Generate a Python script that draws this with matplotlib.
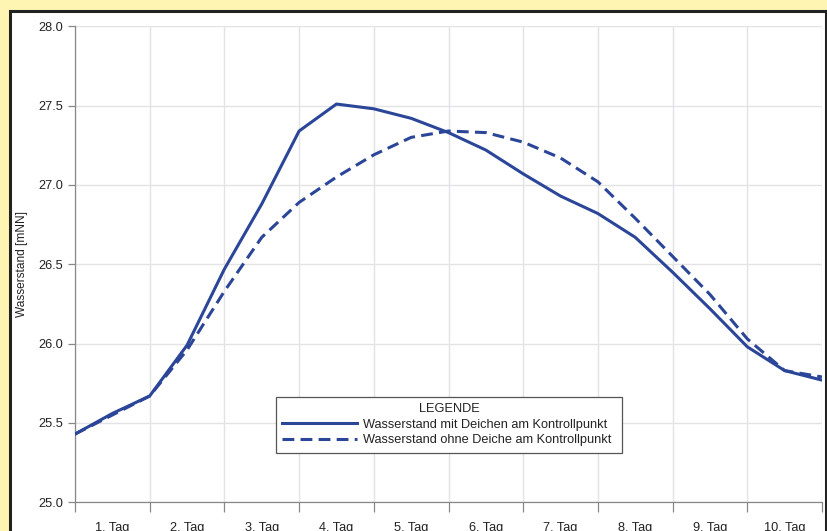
import matplotlib
matplotlib.use("Agg")
import matplotlib.pyplot as plt
from matplotlib.patches import Rectangle
from matplotlib.ticker import MultipleLocator, FixedLocator, FixedFormatter, NullFormatter

plt.rcParams['font.family'] = ['Liberation Sans', 'DejaVu Sans']
plt.rcParams['lines.scale_dashes'] = False

# Zeitachse in halben Tagen
zeit_tage = [0.0, 0.5, 1.0, 1.5, 2.0, 2.5, 3.0, 3.5, 4.0, 4.5, 5.0,
             5.5, 6.0, 6.5, 7.0, 7.5, 8.0, 8.5, 9.0, 9.5, 10.0]

# Wasserstand mit Deichen [mNN]
mit_deichen = [25.43, 25.56, 25.67, 25.99, 26.47, 26.88, 27.34, 27.51, 27.48, 27.42, 27.33,
               27.22, 27.07, 26.93, 26.82, 26.67, 26.45, 26.22, 25.98, 25.83, 25.77]

# Wasserstand ohne Deiche [mNN]
ohne_deiche = [25.43, 25.55, 25.67, 25.96, 26.33, 26.67, 26.89, 27.05, 27.19, 27.30, 27.34,
               27.33, 27.27, 27.17, 27.02, 26.79, 26.55, 26.31, 26.03, 25.83, 25.79]

tag_labels = ["1. Tag", "2. Tag", "3. Tag", "4. Tag", "5. Tag",
              "6. Tag", "7. Tag", "8. Tag", "9. Tag", "10. Tag"]

W, H = 827, 531
fig = plt.figure(figsize=(W / 100, H / 100), dpi=100)
fig.patch.set_facecolor('#fff5b3')

# weisses Panel mit schwarzem Rahmen
fig.patches.append(Rectangle((10 / W, -0.1), (825.5 - 10) / W, 1 - 11 / H + 0.1,
                             transform=fig.transFigure, facecolor='white',
                             edgecolor='#222222', linewidth=2.2, zorder=-5))

ax = fig.add_axes([75 / W, 1 - 502.3 / H, (822 - 75) / W, (502.3 - 26.3) / H])
ax.set_zorder(2)
ax.set_facecolor('white')

blau = '#2b4698'
ax.plot(zeit_tage, mit_deichen, color=blau, lw=2.2, solid_joinstyle='round',
        label='Wasserstand mit Deichen am Kontrollpunkt', zorder=3)
ax.plot(zeit_tage, ohne_deiche, color=blau, lw=2.2, dashes=(8.5, 4.5),
        label='Wasserstand ohne Deiche am Kontrollpunkt', zorder=3)

ax.set_xlim(0, 10)
ax.set_ylim(25.0, 28.0)

ax.yaxis.set_major_locator(MultipleLocator(0.5))
ax.yaxis.set_major_formatter(plt.FuncFormatter(lambda v, p: f"{v:.1f}"))

ax.xaxis.set_major_locator(FixedLocator(range(0, 11)))
ax.xaxis.set_major_formatter(NullFormatter())
ax.xaxis.set_minor_locator(FixedLocator([i + 0.5 for i in range(10)]))
ax.xaxis.set_minor_formatter(FixedFormatter(tag_labels))

fs = 9.2
ax.grid(True, which='major', color='#e3e3e6', lw=1.0, zorder=0)
ax.tick_params(axis='x', which='major', length=7.5, color='#888888', width=0.9, direction='out')
ax.tick_params(axis='x', which='minor', length=0, pad=14.5, labelsize=fs, labelcolor='#222222')
ax.tick_params(axis='y', which='major', length=5, color='#888888', width=0.9,
               labelsize=fs, labelcolor='#222222', pad=3.5)

for s in ['top', 'right']:
    ax.spines[s].set_visible(False)
for s in ['left', 'bottom']:
    ax.spines[s].set_color('#888888')
    ax.spines[s].set_linewidth(0.9)

fig.text(22 / W, 1 - 264 / H, 'Wasserstand [mNN]', rotation=90, ha='center', va='center',
         fontsize=8.6, color='#222222')

ax_w = 822 - 75
ax_h = 502.3 - 26.3
leg = ax.legend(loc='upper left',
                bbox_to_anchor=((276 - 75) / ax_w, (502.3 - 397) / ax_h, (622 - 276) / ax_w, 0),
                mode='expand',
                title='LEGENDE', fontsize=fs, title_fontsize=fs, frameon=True, fancybox=False,
                edgecolor='#555555', handlelength=5.8, handletextpad=0.5, borderpad=0.5,
                labelspacing=0.27, borderaxespad=0)
leg.get_frame().set_linewidth(0.9)
leg.get_frame().set_alpha(1)
leg.get_title().set_color('#222222')
for t in leg.get_texts():
    t.set_color('#222222')

fig.savefig('out.png', dpi=100, facecolor=fig.get_facecolor())
